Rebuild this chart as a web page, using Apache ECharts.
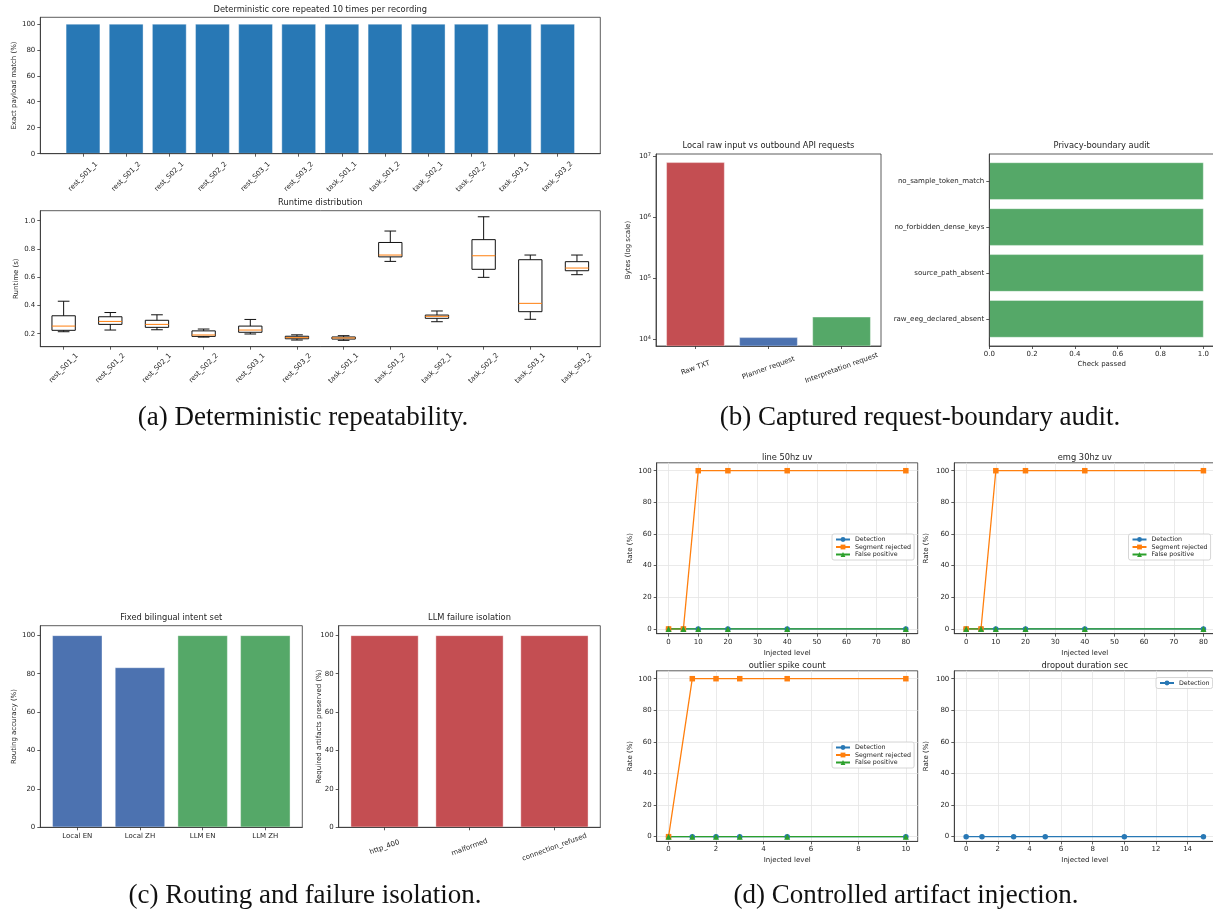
<!DOCTYPE html>
<html>
<head>
<meta charset="utf-8">
<title>Pipeline audit figure</title>
<script src="https://cdn.jsdelivr.net/npm/echarts@6.0.0/dist/echarts.min.js"></script>
<style>
  html, body { margin: 0; padding: 0; background: #ffffff; }
  #fig { width: 1213px; height: 911px; }
</style>
</head>
<body>
<div id="fig"></div>
<script>
// ---------------- data ----------------
// (a) deterministic repeatability
const recordings = ['rest_S01_1', 'rest_S01_2', 'rest_S02_1', 'rest_S02_2', 'rest_S03_1', 'rest_S03_2',
                    'task_S01_1', 'task_S01_2', 'task_S02_1', 'task_S02_2', 'task_S03_1', 'task_S03_2'];
const exactMatchPct = [100, 100, 100, 100, 100, 100, 100, 100, 100, 100, 100, 100];
// runtime per recording (s): lower whisker, Q1, median, Q3, upper whisker
const runtimeLow    = [0.214, 0.226, 0.228, 0.176, 0.198, 0.155, 0.153, 0.712, 0.285, 0.599, 0.302, 0.618];
const runtimeQ1     = [0.224, 0.266, 0.245, 0.181, 0.210, 0.164, 0.162, 0.744, 0.309, 0.656, 0.356, 0.646];
const runtimeMedian = [0.254, 0.287, 0.266, 0.191, 0.226, 0.172, 0.170, 0.757, 0.323, 0.752, 0.415, 0.665];
const runtimeQ3     = [0.327, 0.320, 0.295, 0.220, 0.254, 0.182, 0.177, 0.846, 0.332, 0.866, 0.724, 0.710];
const runtimeHigh   = [0.430, 0.350, 0.334, 0.233, 0.301, 0.192, 0.186, 0.927, 0.361, 1.028, 0.757, 0.757];

// (b) request-boundary audit
const payloadKinds = ['Raw TXT', 'Planner request', 'Interpretation request'];
const payloadBytes = [8100000, 10800, 23500];
const auditChecks = ['raw_eeg_declared_absent', 'source_path_absent', 'no_forbidden_dense_keys', 'no_sample_token_match'];
const auditPassed = [1, 1, 1, 1];

// (c) routing and failure isolation
const routingConfigs = ['Local EN', 'Local ZH', 'LLM EN', 'LLM ZH'];
const routingAccuracy = [100, 83.3, 100, 100];
const failureModes = ['http_400', 'malformed', 'connection_refused'];
const artifactsPreserved = [100, 100, 100];

// (d) controlled artifact injection
const lineLevels = [0, 5, 10, 20, 40, 80];
const lineDetection = [0, 0, 0, 0, 0, 0];
const lineRejected = [0, 0, 100, 100, 100, 100];
const lineFalsePositive = [0, 0, 0, 0, 0, 0];

const emgLevels = [0, 5, 10, 20, 40, 80];
const emgDetection = [0, 0, 0, 0, 0, 0];
const emgRejected = [0, 0, 100, 100, 100, 100];
const emgFalsePositive = [0, 0, 0, 0, 0, 0];

const spikeLevels = [0, 1, 2, 3, 5, 10];
const spikeDetection = [0, 0, 0, 0, 0, 0];
const spikeRejected = [0, 100, 100, 100, 100, 100];
const spikeFalsePositive = [0, 0, 0, 0, 0, 0];

const dropoutLevels = [0, 1, 3, 5, 10, 15];
const dropoutDetection = [0, 0, 0, 0, 0, 0];

// tick values
const pctTicks = [0, 20, 40, 60, 80, 100];
const runtimeTicks = [0.2, 0.4, 0.6, 0.8, 1.0];
const checkTicks = [0, 0.2, 0.4, 0.6, 0.8, 1.0];
const levelTicks80 = [0, 10, 20, 30, 40, 50, 60, 70, 80];
const levelTicks10 = [0, 2, 4, 6, 8, 10];
const levelTicks15 = [0, 2, 4, 6, 8, 10, 12, 14];

// ---------------- style ----------------
const FONT = 'DejaVu Sans';
const SERIF = 'Liberation Serif';
const INK = '#1e1e1e';
const SPINE = '#333333';
const TICK_FS = 7;
const TITLE_FS = 8.3;
const MPL_BLUE = '#2878b5', MPL_ORANGE = '#ff7f0e', MPL_GREEN = '#2ca02c';
const DEEP_RED = '#c44e52', DEEP_BLUE = '#4c72b0', DEEP_GREEN = '#55a868';
const BAR_EDGE = 'rgba(255,255,255,0.55)';
const HALF_BAR = 0.4;

// plot rectangles (px)
const G = {
  a1: { left: 40.3,  top: 17.3,  width: 560,   height: 136.4 },
  a2: { left: 40.3,  top: 210.7, width: 560,   height: 136 },
  b1: { left: 656,   top: 154,   width: 225,   height: 192 },
  b2: { left: 989.3, top: 154,   width: 224.7, height: 192 },
  c1: { left: 40.3,  top: 625.7, width: 262,   height: 201.6 },
  c2: { left: 338.7, top: 625.7, width: 261.6, height: 201.6 },
  d1: { left: 656.7, top: 462.8, width: 261,   height: 170.9 },
  d2: { left: 954.3, top: 462.8, width: 261,   height: 170.9 },
  d3: { left: 656.7, top: 670.8, width: 261,   height: 170.6 },
  d4: { left: 954.3, top: 670.8, width: 261,   height: 170.6 }
};
const ORDER = ['a1', 'a2', 'b1', 'b2', 'c1', 'c2', 'd1', 'd2', 'd3', 'd4'];
const gi = k => ORDER.indexOf(k);

const grids = ORDER.map(k => Object.assign({
  show: true, backgroundColor: '#ffffff', borderColor: SPINE, borderWidth: 0.8,
  containLabel: false, outerBoundsMode: 'none'
}, G[k]));

function axis(o) {
  const ax = {
    gridIndex: gi(o.grid), type: o.type || 'value', z: 3,
    axisLine: { show: true, onZero: false, lineStyle: { color: SPINE, width: 0.8 } },
    axisTick: { show: true, length: 3, lineStyle: { color: SPINE, width: 0.8 } },
    axisLabel: { color: INK, fontSize: TICK_FS, fontFamily: FONT, margin: o.margin != null ? o.margin : 5, interval: 0, hideOverlap: false },
    splitLine: { show: !!o.gridLines, lineStyle: { color: '#e4e4e4', width: 0.8 } },
    nameMoveOverlap: false
  };
  if (o.min != null) ax.min = o.min;
  if (o.max != null) ax.max = o.max;
  if (o.data) { ax.data = o.data; ax.boundaryGap = true; ax.axisTick.alignWithLabel = true; }
  if (o.ticks) { ax.axisTick.customValues = o.ticks; ax.axisLabel.customValues = o.ticks; }
  if (o.fmt) ax.axisLabel.formatter = o.fmt;
  if (o.rotate) Object.assign(ax.axisLabel, { rotate: o.rotate, align: 'center', verticalAlign: 'middle' });
  if (o.name) Object.assign(ax, {
    name: o.name, nameLocation: 'middle', nameGap: o.nameGap,
    nameTextStyle: { color: INK, fontSize: TICK_FS, fontFamily: FONT }
  });
  return ax;
}

const byIndex = names => v => { const i = Math.round(v); return Math.abs(v - i) < 1e-6 && names[i] != null ? names[i] : ''; };
const fixed1 = v => v.toFixed(1);
const idx = arr => arr.map((_, i) => i);

const xAxes = [
  axis({ grid: 'a1', min: -0.99, max: 11.99, ticks: idx(recordings), fmt: byIndex(recordings), rotate: 45, margin: 23 }),
  axis({ grid: 'a2', type: 'category', data: recordings, rotate: 45, margin: 21.5 }),
  axis({ grid: 'b1', min: -0.54, max: 2.54, ticks: idx(payloadKinds), fmt: byIndex(payloadKinds), rotate: 20, margin: 22 }),
  axis({ grid: 'b2', min: 0, max: 1.05, ticks: checkTicks, fmt: fixed1, margin: 4.5, name: 'Check passed', nameGap: 15 }),
  axis({ grid: 'c1', min: -0.59, max: 3.59, ticks: idx(routingConfigs), fmt: byIndex(routingConfigs), margin: 5 }),
  axis({ grid: 'c2', min: -0.54, max: 2.54, ticks: idx(failureModes), fmt: byIndex(failureModes), rotate: 20, margin: 20 }),
  axis({ grid: 'd1', min: -4, max: 84, ticks: levelTicks80, margin: 4.5, gridLines: true, name: 'Injected level', nameGap: 15.5 }),
  axis({ grid: 'd2', min: -4, max: 84, ticks: levelTicks80, margin: 4.5, gridLines: true, name: 'Injected level', nameGap: 15.5 }),
  axis({ grid: 'd3', min: -0.5, max: 10.5, ticks: levelTicks10, margin: 4.5, gridLines: true, name: 'Injected level', nameGap: 15.5 }),
  axis({ grid: 'd4', min: -0.75, max: 15.75, ticks: levelTicks15, margin: 4.5, gridLines: true, name: 'Injected level', nameGap: 15.5 })
];

const logLabel = v => {
  const e = Math.log10(v);
  return Math.abs(e - Math.round(e)) < 1e-6 ? '10{e|' + Math.round(e) + '}' : '';
};
const bytesAxis = axis({ grid: 'b1', type: 'log', min: 7762, max: 11070000, margin: 5, name: 'Bytes (log scale)', nameGap: 24 });
bytesAxis.logBase = 10;
bytesAxis.axisLabel.formatter = logLabel;
bytesAxis.axisLabel.showMinLabel = false;
bytesAxis.axisLabel.showMaxLabel = false;
bytesAxis.axisLabel.rich = { e: { fontSize: 5, fontFamily: FONT, color: INK, verticalAlign: 'top', padding: [0, 0, 4, 0] } };

const yAxes = [
  axis({ grid: 'a1', min: 0, max: 105, ticks: pctTicks, name: 'Exact payload match (%)', nameGap: 22.5 }),
  axis({ grid: 'a2', min: 0.108, max: 1.071, ticks: runtimeTicks, fmt: fixed1, name: 'Runtime (s)', nameGap: 20.5 }),
  bytesAxis,
  axis({ grid: 'b2', min: -0.59, max: 3.59, ticks: idx(auditChecks), fmt: byIndex(auditChecks) }),
  axis({ grid: 'c1', min: 0, max: 105, ticks: pctTicks, name: 'Routing accuracy (%)', nameGap: 22.5 }),
  axis({ grid: 'c2', min: 0, max: 105, ticks: pctTicks, name: 'Required artifacts preserved (%)', nameGap: 16 }),
  axis({ grid: 'd1', min: -3, max: 105, ticks: pctTicks, gridLines: true, name: 'Rate (%)', nameGap: 23.5 }),
  axis({ grid: 'd2', min: -3, max: 105, ticks: pctTicks, gridLines: true, name: 'Rate (%)', nameGap: 24.5 }),
  axis({ grid: 'd3', min: -3, max: 105, ticks: pctTicks, gridLines: true, name: 'Rate (%)', nameGap: 23.5 }),
  axis({ grid: 'd4', min: -3, max: 105, ticks: pctTicks, gridLines: true, name: 'Rate (%)', nameGap: 24.5 })
];

// ---------------- series ----------------
function barSeries(key, values, colorOf) {
  return {
    type: 'bar', xAxisIndex: gi(key), yAxisIndex: gi(key), barWidth: '80%', clip: true, silent: true,
    data: values.map((v, i) => ({ value: [i, v], itemStyle: { color: colorOf(i), borderColor: BAR_EDGE, borderWidth: 0.7 } }))
  };
}

const boxSeries = {
  type: 'custom', xAxisIndex: gi('a2'), yAxisIndex: gi('a2'), silent: true,
  encode: { x: 0, y: [1, 2, 3, 4, 5] },
  data: recordings.map((r, i) => [i, runtimeLow[i], runtimeQ1[i], runtimeMedian[i], runtimeQ3[i], runtimeHigh[i]]),
  renderItem(params, api) {
    const c = api.value(0);
    const lo = api.coord([c, api.value(1)]);
    const q1 = api.coord([c, api.value(2)]);
    const md = api.coord([c, api.value(3)]);
    const q3 = api.coord([c, api.value(4)]);
    const hi = api.coord([c, api.value(5)]);
    const band = api.size([1, 0])[0];
    const hw = band * 0.25, cw = band * 0.125, x = lo[0];
    const seg = (x1, y1, x2, y2, stroke) => ({ type: 'line', shape: { x1, y1, x2, y2 }, style: { stroke, lineWidth: 1 } });
    return {
      type: 'group',
      children: [
        seg(x, lo[1], x, q1[1], '#111'),
        seg(x, q3[1], x, hi[1], '#111'),
        seg(x - cw, lo[1], x + cw, lo[1], '#111'),
        seg(x - cw, hi[1], x + cw, hi[1], '#111'),
        { type: 'rect', shape: { x: x - hw, y: q3[1], width: 2 * hw, height: q1[1] - q3[1] }, style: { fill: 'none', stroke: '#111', lineWidth: 1 } },
        seg(x - hw, md[1], x + hw, md[1], MPL_ORANGE)
      ]
    };
  }
};

const auditSeries = {
  type: 'custom', xAxisIndex: gi('b2'), yAxisIndex: gi('b2'), silent: true,
  encode: { x: 0, y: 1 },
  data: auditChecks.map((c, i) => [auditPassed[i], i]),
  renderItem(params, api) {
    const v = api.value(0), i = api.value(1);
    const p0 = api.coord([0, i + HALF_BAR]);
    const p1 = api.coord([v, i - HALF_BAR]);
    return { type: 'rect', shape: { x: p0[0], y: p0[1], width: p1[0] - p0[0], height: p1[1] - p0[1] },
             style: { fill: DEEP_GREEN, stroke: BAR_EDGE, lineWidth: 0.7 } };
  }
};

const payloadColor = { 'Raw TXT': DEEP_RED, 'Planner request': DEEP_BLUE, 'Interpretation request': DEEP_GREEN };

function rate(key, name, xs, ys, color, symbol) {
  return {
    type: 'line', name, xAxisIndex: gi(key), yAxisIndex: gi(key), silent: true, clip: false,
    data: xs.map((x, i) => [x, ys[i]]),
    symbol, symbolSize: symbol === 'triangle' ? 6 : 5.5, showSymbol: true,
    lineStyle: { color, width: 1.3 }, itemStyle: { color }
  };
}
function rateTrio(key, xs, det, rej, fp) {
  const out = [rate(key, 'Detection', xs, det, MPL_BLUE, 'circle')];
  if (rej) out.push(rate(key, 'Segment rejected', xs, rej, MPL_ORANGE, 'rect'));
  if (fp) out.push(rate(key, 'False positive', xs, fp, MPL_GREEN, 'triangle'));
  return out;
}

const series = [
  barSeries('a1', exactMatchPct, () => MPL_BLUE),
  boxSeries,
  barSeries('b1', payloadBytes, i => payloadColor[payloadKinds[i]]),
  auditSeries,
  barSeries('c1', routingAccuracy, i => routingConfigs[i].startsWith('LLM') ? DEEP_GREEN : DEEP_BLUE),
  barSeries('c2', artifactsPreserved, () => DEEP_RED),
  ...rateTrio('d1', lineLevels, lineDetection, lineRejected, lineFalsePositive),
  ...rateTrio('d2', emgLevels, emgDetection, emgRejected, emgFalsePositive),
  ...rateTrio('d3', spikeLevels, spikeDetection, spikeRejected, spikeFalsePositive),
  ...rateTrio('d4', dropoutLevels, dropoutDetection, null, null)
];

// ---------------- titles and captions ----------------
function heading(text, key, dy) {
  const g = G[key];
  return { text, left: g.left + g.width / 2, top: g.top - dy, textAlign: 'center', textVerticalAlign: 'middle', padding: 0,
           textStyle: { color: INK, fontSize: TITLE_FS, fontWeight: 'normal', fontFamily: FONT } };
}
function caption(text, x, y) {
  return { text, left: x, top: y, textAlign: 'center', textVerticalAlign: 'middle', padding: 0,
           textStyle: { color: '#111', fontSize: 27, fontWeight: 'normal', fontFamily: SERIF } };
}
const titles = [
  heading('Deterministic core repeated 10 times per recording', 'a1', 7.5),
  heading('Runtime distribution', 'a2', 7.5),
  heading('Local raw input vs outbound API requests', 'b1', 8),
  heading('Privacy-boundary audit', 'b2', 8),
  heading('Fixed bilingual intent set', 'c1', 7.5),
  heading('LLM failure isolation', 'c2', 7.5),
  heading('line 50hz uv', 'd1', 5),
  heading('emg 30hz uv', 'd2', 5),
  heading('outlier spike count', 'd3', 5),
  heading('dropout duration sec', 'd4', 5),
  caption('(a) Deterministic repeatability.', 303, 418),
  caption('(b) Captured request-boundary audit.', 920, 418),
  caption('(c) Routing and failure isolation.', 305, 896),
  caption('(d) Controlled artifact injection.', 906, 896)
];

// ---------------- legends ----------------
function legendBox(names, left, top) {
  return {
    data: names, orient: 'vertical', left, top, itemWidth: 14, itemHeight: 6, itemGap: 1.5,
    padding: [2.5, 3, 2.5, 3], borderColor: '#cccccc', borderWidth: 0.8, borderRadius: 2,
    backgroundColor: 'rgba(255,255,255,0.85)', selectedMode: false, z: 10,
    textStyle: { color: INK, fontSize: 6.3, fontFamily: FONT }
  };
}
const trioNames = ['Detection', 'Segment rejected', 'False positive'];
const legends = [
  legendBox(trioNames, 832, 534),
  legendBox(trioNames, 1128.5, 534),
  legendBox(trioNames, 832, 742),
  legendBox(['Detection'], 1156, 677.5)
];

const chart = echarts.init(document.getElementById('fig'), null, { renderer: 'canvas', width: 1213, height: 911 });
chart.setOption({
  animation: false,
  backgroundColor: '#ffffff',
  textStyle: { fontFamily: FONT },
  title: titles,
  legend: legends,
  grid: grids,
  xAxis: xAxes,
  yAxis: yAxes,
  series
});
</script>
</body>
</html>
